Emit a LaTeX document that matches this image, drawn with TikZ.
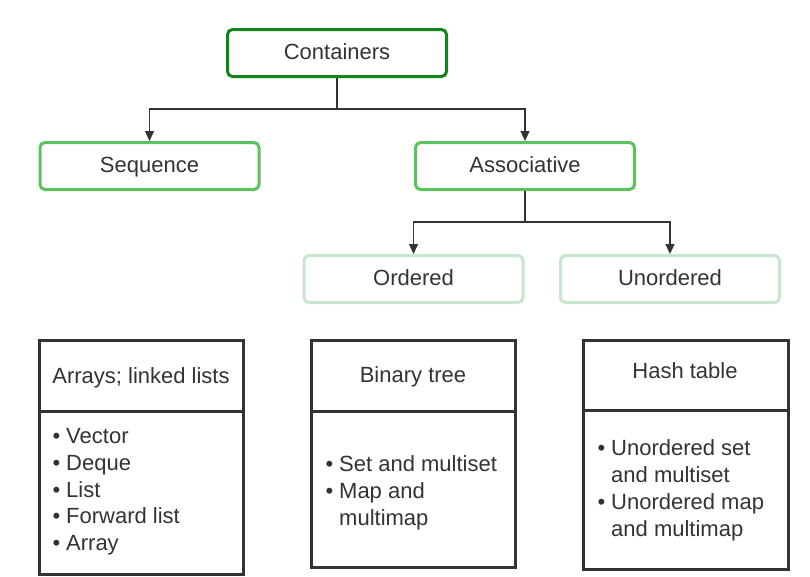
\documentclass[tikz,border=0pt]{standalone}
\usepackage{fontspec}
\setmainfont{Liberation Sans}
\usetikzlibrary{arrows.meta}
\definecolor{dkgreen}{HTML}{10861A}
\definecolor{mdgreen}{HTML}{5AC35E}
\definecolor{ltgreen}{HTML}{C6E7CB}
\definecolor{txt}{HTML}{333333}
\definecolor{frame}{HTML}{333333}
\newcommand{\bul}{\makebox[13.5pt][l]{•}}
\begin{document}
\begin{tikzpicture}[x=1pt,y=-1pt,
  every node/.style={font=\fontsize{22}{27}\selectfont, text=txt},
  cbox/.style={draw, rounded corners=5pt, line width=3pt, minimum width=219pt, minimum height=47pt, inner sep=0pt, text height=16.8pt, text depth=4.2pt},
  conn/.style={draw=txt, line width=1.2pt, -{Triangle[length=10pt,width=9pt]}},
  tbl/.style={draw=frame, line width=3pt},
  lbl/.style={anchor=base, inner sep=0pt},
  itm/.style={anchor=base west, inner sep=0pt}]
\useasboundingbox (0,0) rectangle (810,576);
\fill[white] (0,0) rectangle (810,576);

% top tree
\node[cbox, draw=dkgreen] (cont) at (337,53) {Containers};
\node[cbox, draw=mdgreen] (seq) at (149.5,166) {Sequence};
\node[cbox, draw=mdgreen] (assoc) at (525,166) {Associative};
\node[cbox, draw=ltgreen] (ord) at (413.5,279) {Ordered};
\node[cbox, draw=ltgreen] (unord) at (670,279) {Unordered};

\coordinate (j1) at (337,109);
\coordinate (j2) at (525,222);
\draw[draw=txt, line width=1.2pt] (cont.south) -- (j1);
\draw[conn] (j1) -| (seq.north);
\draw[conn] (j1) -| (assoc.north);
\draw[draw=txt, line width=1.2pt] (assoc.south) -- (j2);
\draw[conn] (j2) -| (ord.north);
\draw[conn] (j2) -| (unord.north);

% tables
\draw[tbl] (39,340) rectangle (243,574);
\draw[tbl] (39,411) -- (243,411);
\draw[tbl] (311,340) rectangle (515,567);
\draw[tbl] (311,411) -- (515,411);
\draw[tbl] (583,340) rectangle (788,569);
\draw[tbl] (583,410) -- (788,410);

\node[lbl] (h1) at (141,383) {Arrays; linked lists};
\node[lbl] (h2) at (413,382) {Binary tree};
\node[lbl] (h3) at (685,378) {Hash table};

\node[itm] (a1) at (52.5,443) {\bul Vector};
\node[itm] (a2) at (52.5,470) {\bul Deque};
\node[itm] (a3) at (52.5,497) {\bul List};
\node[itm] (a4) at (52.5,523) {\bul Forward list};
\node[itm] (a5) at (52.5,550) {\bul Array};

\node[itm] (b1) at (325.5,471.5) {\bul Set and multiset};
\node[itm] (b2) at (325.5,498) {\bul Map and};
\node[itm] (b3) at (325.5,525) {\hspace*{13.5pt}multimap};

\node[itm] (c1) at (597.5,455) {\bul Unordered set};
\node[itm] (c2) at (597.5,482) {\hspace*{13.5pt}and multiset};
\node[itm] (c3) at (597.5,509) {\bul Unordered map};
\node[itm] (c4) at (597.5,536) {\hspace*{13.5pt}and multimap};
\end{tikzpicture}
\end{document}
